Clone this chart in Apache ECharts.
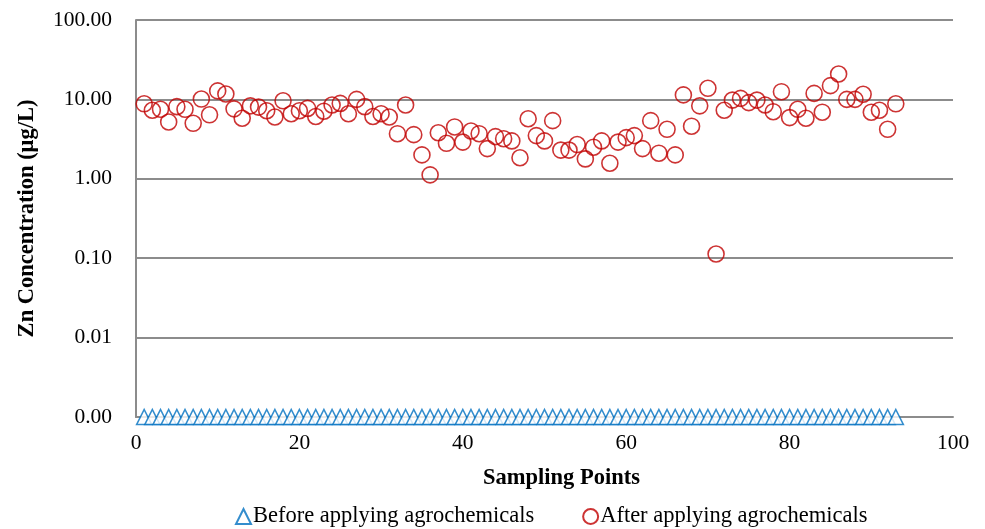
<!DOCTYPE html>
<html>
<head>
    <meta charset="utf-8">
    <style type="text/css">
        *, html, body {
            margin: 0;
            padding: 0;
        }
        html, body, #container {
            width: 985px;
            height: 529px;
            background: #fff;
        }
    </style>
    <script type="text/javascript" src="https://cdn.jsdelivr.net/npm/echarts@6/dist/echarts.min.js"></script>
</head>
<body>
<div id="container"></div>
<script type="text/javascript">
    // sampling point numbers 1..93
    let points = [];
    for (let i = 1; i <= 93; i++) points.push(i);

    // before: all below detection, plotted at the axis floor
    let beforeValues = [];
    for (let i = 0; i < points.length; i++) beforeValues.push(0.001);

    // after: Zn in ug/L
    let afterValues = [
        8.8, 7.3, 7.5, 5.2, 8.1, 7.5, 5.0, 10.1, 6.4, 12.8,
        11.7, 7.6, 5.8, 8.3, 8.0, 7.2, 6.0, 9.6, 6.6, 7.2,
        7.7, 6.1, 7.1, 8.5, 8.9, 6.6, 10.0, 8.1, 6.1, 6.6,
        6.0, 3.7, 8.5, 3.6, 2.0, 1.12, 3.8, 2.8, 4.5, 2.9,
        4.0, 3.7, 2.4, 3.4, 3.2, 3.0, 1.84, 5.7, 3.5, 3.0,
        5.4, 2.3, 2.3, 2.7, 1.78, 2.5, 3.0, 1.57, 2.9, 3.3,
        3.5, 2.4, 5.4, 2.1, 4.2, 2.0, 11.4, 4.6, 8.3, 13.8,
        0.113, 7.3, 9.8, 10.3, 9.1, 9.8, 8.5, 7.0, 12.5, 5.9,
        7.5, 5.8, 11.9, 6.9, 14.9, 20.9, 10.0, 10.0, 11.6, 6.9,
        7.3, 4.2, 8.8
    ];

    let xTicks = [0, 20, 40, 60, 80, 100];

    let pair = (xs, ys) => xs.map((x, i) => [x, ys[i]]);

    let font = "'Liberation Serif', 'Times New Roman', serif";
    let gridColor = '#8c8c8c';

    let myChart = echarts.init(document.getElementById("container"));
    let option = {
        animation: false,
        textStyle: { fontFamily: font },
        grid: { left: 136, right: 32, top: 20, bottom: 112 },
        legend: {
            top: 500,
            left: 230,
            itemGap: 48,
            itemWidth: 15,
            itemHeight: 15,
            textStyle: { fontFamily: font, fontSize: 22.5, color: '#000', padding: [0, 0, 0, -3] },
            data: [
                { name: 'Before applying agrochemicals', icon: 'triangle' },
                { name: 'After applying agrochemicals', icon: 'circle' }
            ]
        },
        xAxis: {
            type: 'value',
            min: xTicks[0],
            max: xTicks[xTicks.length - 1],
            interval: 20,
            name: 'Sampling Points',
            nameLocation: 'middle',
            nameGap: 50,
            nameTextStyle: { fontFamily: font, fontSize: 22.5, fontWeight: 'bold', color: '#000', padding: [0, 0, 0, 34] },
            axisLine: { show: true, lineStyle: { color: gridColor, width: 2 } },
            axisTick: { show: false },
            splitLine: { show: false },
            axisLabel: { fontFamily: font, fontSize: 21.5, color: '#000', margin: 15 }
        },
        yAxis: {
            type: 'log',
            logBase: 10,
            min: 0.001,
            max: 100,
            name: 'Zn Concentration (μg/L)',
            nameLocation: 'middle',
            nameGap: 97,
            nameTextStyle: { fontFamily: font, fontSize: 22.5, fontWeight: 'bold', color: '#000' },
            axisLine: { show: true, lineStyle: { color: gridColor, width: 2 } },
            axisTick: { show: false },
            splitLine: { show: true, lineStyle: { color: gridColor, width: 2 } },
            axisLabel: {
                fontFamily: font, fontSize: 21.5, color: '#000', margin: 24,
                formatter: v => Number(v).toFixed(2)
            }
        },
        series: [
            {
                name: 'Before applying agrochemicals',
                type: 'scatter',
                symbol: 'triangle',
                symbolSize: [15, 15],
                itemStyle: { color: '#fff', borderColor: '#0070C0', borderWidth: 1.6 },
                data: pair(points, beforeValues)
            },
            {
                name: 'After applying agrochemicals',
                type: 'scatter',
                symbol: 'circle',
                symbolSize: 16,
                itemStyle: { color: 'rgba(255,255,255,0)', borderColor: '#C00000', borderWidth: 1.6 },
                data: pair(points, afterValues)
            }
        ]
    };
    myChart.setOption(option);
</script>
</body>
</html>
